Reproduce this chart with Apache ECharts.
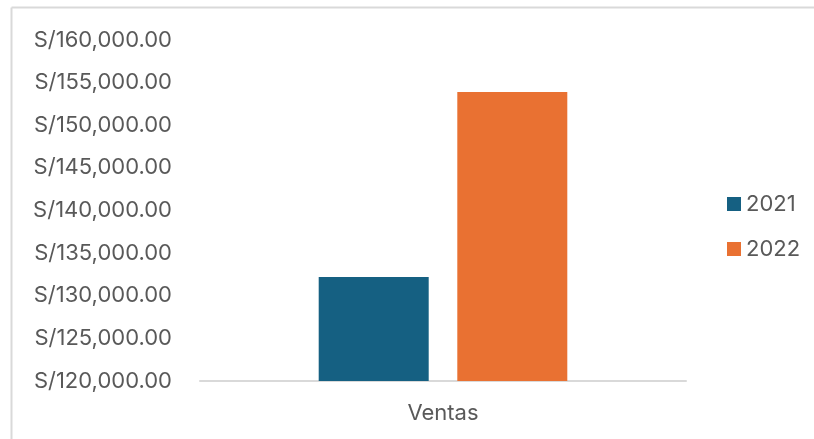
<!DOCTYPE html>
<html>
<head>
<meta charset="utf-8">
<script src="https://cdn.jsdelivr.net/npm/echarts@6/dist/echarts.min.js"></script>
<style>
html,body{margin:0;padding:0;background:#fff;}
#c{width:814px;height:439px;}
</style>
</head>
<body>
<div id="c"></div>
<script>
const categories = ['Ventas'];
const seriesNames = ['2021', '2022'];
const values2021 = [132200];
const values2022 = [153900];
const seriesColors = ['#156082', '#E97132'];
const yMin = 120000, yMax = 160000, yInterval = 5000;

function fmt(v) {
  const s = Math.round(v).toString().replace(/\B(?=(\d{3})+(?!\d))/g, ',');
  return 'S/' + s + '.00';
}

const chart = echarts.init(document.getElementById('c'));
chart.setOption({
  animation: false,
  backgroundColor: '#fff',
  textStyle: { fontFamily: 'Inter, Liberation Sans, Arial, sans-serif' },
  graphic: [
    { type: 'line', shape: { x1: 11.5, y1: 7.5, x2: 814, y2: 7.5 }, style: { stroke: '#D9D9D9', lineWidth: 2 } },
    { type: 'line', shape: { x1: 11.5, y1: 7.5, x2: 11.5, y2: 439 }, style: { stroke: '#D9D9D9', lineWidth: 2 } }
  ],
  grid: { left: 200, right: 128, top: 40, bottom: 58, containLabel: false },
  legend: {
    orient: 'vertical',
    left: 722,
    top: 188,
    icon: 'rect',
    itemWidth: 14,
    itemHeight: 14,
    itemGap: 23,
    itemTextGap: 6,
    textStyle: { color: '#595959', fontSize: 22 },
    data: seriesNames
  },
  xAxis: {
    type: 'category',
    data: categories,
    axisLine: { lineStyle: { color: '#D9D9D9', width: 2 } },
    axisTick: { show: false },
    axisLabel: { color: '#595959', fontSize: 22, margin: 21 }
  },
  yAxis: {
    type: 'value',
    min: yMin,
    max: yMax,
    interval: yInterval,
    axisLine: { show: false },
    axisTick: { show: false },
    splitLine: { show: false },
    axisLabel: { color: '#595959', fontSize: 22, margin: 28, formatter: fmt }
  },
  series: [
    { name: seriesNames[0], type: 'bar', data: values2021, barWidth: 110, barGap: '26%', itemStyle: { color: seriesColors[0] } },
    { name: seriesNames[1], type: 'bar', data: values2022, barWidth: 110, barGap: '26%', itemStyle: { color: seriesColors[1] } }
  ]
});
</script>
</body>
</html>
